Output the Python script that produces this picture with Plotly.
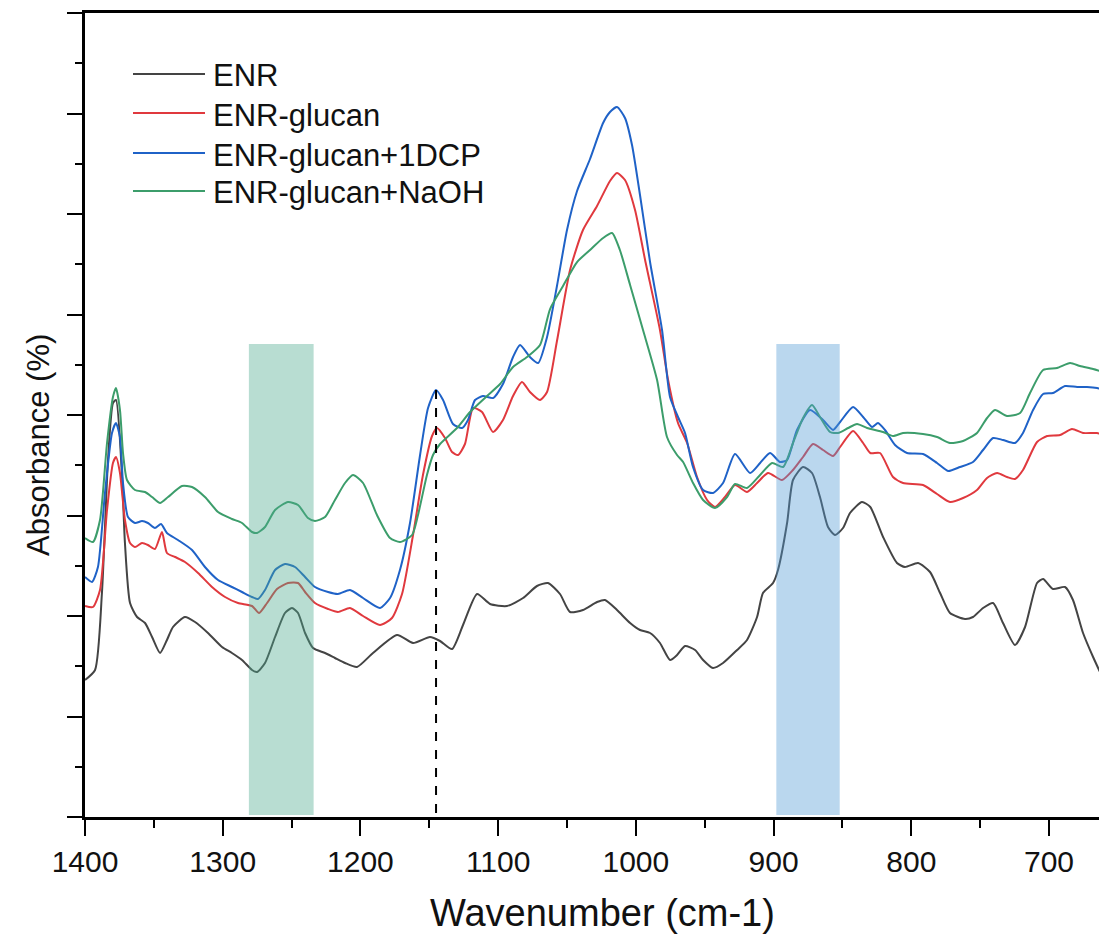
import plotly.graph_objects as go

# ---------------- data (wavenumber cm-1, absorbance arbitrary units) ----------------
enr_wn = [1400, 1392.7, 1387.7, 1383.3, 1379.7, 1377.5, 1373.1, 1371.0, 1367.3, 1362.2, 1356.4, 1351.3,
          1345.5, 1340.5, 1336.1, 1327.4, 1320.1, 1310.7, 1300.5, 1293.3, 1286.0, 1278.7, 1275.1, 1269.3,
          1262.0, 1254.8, 1249.7, 1245.3, 1240.2, 1234.4, 1225.7, 1218.5, 1211.2, 1202.5, 1190.9, 1173.4,
          1161.8, 1149.5, 1142.2, 1133.5, 1125.5, 1115.3, 1105.9, 1093.6, 1081.9, 1071.8, 1063.8, 1055.1,
          1047.8, 1038.4, 1028.2, 1022.4, 1013.7, 1004.2, 997.0, 989.7, 982.5, 975.2, 970.1, 964.3, 957.0,
          951.2, 944.0, 936.7, 926.5, 919.3, 912.0, 907.7, 900.4, 896.8, 890.2, 885.9, 878.6, 872.1, 866.3,
          860.5, 855.4, 849.6, 844.5, 835.8, 829.8, 820.5, 810.4, 804.6, 795.1, 786.4, 779.1, 771.9, 761.0,
          755.2, 747.9, 740.6, 733.4, 724.7, 717.4, 708.7, 704.3, 697.1, 688.4, 682.6, 675.3, 668.0, 657.9]
enr_ab = [1.37, 1.47, 2.24, 3.57, 4.14, 4.17, 3.40, 2.74, 2.14, 2.00, 1.94, 1.80,
          1.64, 1.77, 1.90, 2.00, 1.95, 1.84, 1.70, 1.64, 1.57, 1.47, 1.45, 1.54,
          1.80, 2.04, 2.09, 2.04, 1.84, 1.69, 1.64, 1.59, 1.54, 1.50, 1.64, 1.82,
          1.74, 1.80, 1.76, 1.68, 1.92, 2.23, 2.13, 2.11, 2.19, 2.31, 2.34, 2.23,
          2.05, 2.07, 2.15, 2.17, 2.07, 1.94, 1.87, 1.84, 1.74, 1.57, 1.62, 1.71, 1.67,
          1.57, 1.49, 1.54, 1.67, 1.77, 2.00, 2.24, 2.34, 2.47, 2.94, 3.37, 3.50, 3.44, 3.20,
          2.90, 2.82, 2.89, 3.04, 3.15, 3.10, 2.80, 2.54, 2.50, 2.54, 2.45, 2.24, 2.04, 1.98,
          2.00, 2.09, 2.14, 1.94, 1.72, 1.90, 2.34, 2.38, 2.28, 2.30, 2.17, 1.84, 1.60, 1.30]

glucan_wn = [1400, 1394.2, 1389.1, 1384.0, 1379.7, 1377.5, 1374.6, 1371.0, 1367.3, 1363.7, 1358.6, 1354.3,
             1349.2, 1344.1, 1340.5, 1334.6, 1327.4, 1317.9, 1307.8, 1298.3, 1288.9, 1278.7, 1273.6, 1267.8,
             1260.6, 1252.6, 1245.3, 1240.2, 1233.0, 1223.5, 1216.3, 1207.6, 1198.1, 1185.8, 1177.1, 1169.8,
             1161.8, 1154.6, 1148.0, 1144.4, 1138.6, 1133.5, 1129.1, 1124.1, 1118.2, 1111.7, 1103.7, 1096.5,
             1089.2, 1082.7, 1076.9, 1069.6, 1064.5, 1057.3, 1047.8, 1038.4, 1028.2, 1018.8, 1013.7, 1007.9,
             1000.6, 993.3, 982.5, 976.6, 969.4, 962.8, 955.6, 948.3, 942.5, 935.3, 928.0, 919.3, 912.0, 904.0,
             893.9, 885.9, 878.6, 871.4, 864.1, 856.8, 851.7, 842.3, 835.0, 829.8, 822.7, 813.3, 806.0, 791.5,
             781.3, 771.9, 762.4, 752.3, 745.0, 737.7, 730.5, 724.7, 718.9, 708.7, 701.4, 692.0, 683.3, 675.3,
             665.1, 657.9]
glucan_ab = [2.11, 2.10, 2.27, 3.07, 3.54, 3.60, 3.44, 2.97, 2.74, 2.70, 2.74, 2.72,
             2.68, 2.85, 2.64, 2.60, 2.55, 2.44, 2.30, 2.20, 2.14, 2.11, 2.04, 2.14,
             2.28, 2.34, 2.34, 2.25, 2.14, 2.08, 2.05, 2.09, 2.01, 1.92, 1.99, 2.23,
             2.82, 3.42, 3.81, 3.89, 3.79, 3.65, 3.62, 3.73, 4.09, 4.05, 3.85, 3.97,
             4.21, 4.35, 4.25, 4.17, 4.25, 4.76, 5.47, 5.87, 6.11, 6.36, 6.44, 6.37,
             6.07, 5.57, 4.87, 4.37, 3.94, 3.74, 3.40, 3.17, 3.10, 3.20, 3.32, 3.25, 3.34, 3.44,
             3.37, 3.47, 3.60, 3.73, 3.67, 3.61, 3.70, 3.86, 3.74, 3.64, 3.64, 3.40, 3.34, 3.32,
             3.23, 3.15, 3.19, 3.27, 3.39, 3.44, 3.40, 3.38, 3.47, 3.75, 3.81, 3.82, 3.88, 3.84,
             3.84, 3.81]

dcp_wn = [1400, 1394.9, 1390.6, 1385.5, 1380.4, 1377.5, 1374.6, 1372.4, 1368.8, 1363.7, 1358.6, 1354.3,
          1349.2, 1344.8, 1340.5, 1332.5, 1322.3, 1312.9, 1303.4, 1293.3, 1286.0, 1278.7, 1274.4, 1269.3,
          1262.0, 1254.8, 1247.5, 1240.2, 1233.0, 1223.5, 1216.3, 1207.6, 1198.1, 1185.8, 1178.5, 1171.3,
          1164.0, 1156.7, 1150.9, 1145.1, 1140.0, 1132.8, 1126.2, 1121.9, 1116.8, 1111.0, 1103.7, 1096.5,
          1089.2, 1084.1, 1076.9, 1071.0, 1064.5, 1057.3, 1050.0, 1042.7, 1033.3, 1023.8, 1018.8, 1013.7,
          1007.9, 1002.8, 997.0, 989.7, 981.0, 975.2, 969.4, 964.3, 958.5, 951.2, 944.0, 936.7, 928.0,
          917.1, 909.8, 902.6, 895.3, 890.2, 883.0, 873.5, 864.1, 856.8, 851.7, 842.3, 835.0, 828.5, 824.2,
          819.1, 811.8, 803.1, 791.5, 781.3, 773.3, 764.6, 755.2, 747.9, 740.6, 733.4, 724.7, 718.9, 711.6,
          704.3, 697.1, 688.4, 679.6, 672.4, 665.1, 657.9]
dcp_ab = [2.40, 2.35, 2.50, 3.24, 3.84, 3.94, 3.80, 3.34, 3.00, 2.94, 2.96, 2.94,
          2.89, 2.93, 2.84, 2.77, 2.67, 2.50, 2.37, 2.30, 2.25, 2.20, 2.18, 2.27,
          2.47, 2.53, 2.50, 2.40, 2.30, 2.25, 2.23, 2.27, 2.19, 2.09, 2.19, 2.47,
          2.94, 3.62, 4.09, 4.27, 4.17, 3.93, 3.89, 3.97, 4.17, 4.21, 4.19, 4.33,
          4.60, 4.72, 4.60, 4.54, 4.80, 5.31, 5.87, 6.26, 6.58, 6.94, 7.05, 7.10,
          6.99, 6.72, 6.22, 5.55, 4.87, 4.20, 4.00, 3.84, 3.50, 3.27, 3.24, 3.34, 3.63,
          3.44, 3.54, 3.64, 3.55, 3.57, 3.87, 4.07, 3.97, 3.87, 3.95, 4.10, 4.00, 3.90, 3.94,
          3.87, 3.72, 3.64, 3.63, 3.54, 3.46, 3.50, 3.55, 3.67, 3.79, 3.77, 3.74, 3.84, 4.07,
          4.23, 4.24, 4.31, 4.30, 4.30, 4.29, 4.26]

naoh_wn = [1400, 1394.2, 1389.1, 1384.0, 1379.7, 1377.5, 1374.6, 1372.4, 1369.5, 1363.7, 1356.4, 1351.3,
           1345.5, 1339.7, 1329.6, 1322.3, 1312.9, 1303.4, 1293.3, 1286.0, 1278.7, 1275.1, 1269.3, 1262.0,
           1252.6, 1245.3, 1238.1, 1233.0, 1225.7, 1218.5, 1211.2, 1205.4, 1198.1, 1188.0, 1178.5, 1171.3,
           1162.5, 1158.2, 1151.7, 1147.3, 1142.2, 1129.9, 1120.4, 1108.1, 1098.6, 1089.2, 1079.0, 1069.6,
           1062.3, 1052.9, 1042.7, 1033.3, 1023.8, 1017.3, 1011.6, 1004.2, 994.8, 984.6, 977.4, 970.1,
           965.7, 958.5, 951.2, 942.5, 933.8, 928.0, 919.3, 909.8, 901.1, 893.1, 885.9, 878.6, 872.1,
           866.3, 859.0, 853.2, 845.9, 839.4, 832.1, 820.5, 813.3, 806.0, 791.5, 781.3, 771.9, 762.4,
           752.3, 745.0, 739.2, 730.5, 721.0, 713.8, 704.3, 694.2, 684.7, 677.5, 668.0, 657.9]
naoh_ab = [2.79, 2.75, 2.97, 3.74, 4.20, 4.29, 4.07, 3.64, 3.37, 3.27, 3.25, 3.20,
           3.14, 3.20, 3.31, 3.30, 3.20, 3.05, 2.98, 2.94, 2.85, 2.84, 2.90, 3.07,
           3.15, 3.12, 2.99, 2.96, 3.00, 3.17, 3.34, 3.42, 3.34, 3.02, 2.79, 2.75,
           2.82, 3.02, 3.42, 3.62, 3.73, 3.89, 4.05, 4.21, 4.33, 4.50, 4.60, 4.72,
           5.08, 5.31, 5.55, 5.67, 5.79, 5.84, 5.67, 5.32, 4.87, 4.37, 3.80, 3.62,
           3.55, 3.34, 3.17, 3.09, 3.20, 3.33, 3.29, 3.42, 3.54, 3.50, 3.74, 3.99, 4.12,
           4.00, 3.85, 3.84, 3.89, 3.93, 3.89, 3.85, 3.81, 3.84, 3.83, 3.80, 3.74, 3.76,
           3.84, 3.99, 4.07, 4.01, 4.04, 4.24, 4.47, 4.49, 4.54, 4.51, 4.48, 4.44]

series_names = ["ENR", "ENR-glucan", "ENR-glucan+1DCP", "ENR-glucan+NaOH"]
series_wn = [enr_wn, glucan_wn, dcp_wn, naoh_wn]
series_ab = [enr_ab, glucan_ab, dcp_ab, naoh_ab]
series_colors = ["#444444", "#e0393e", "#1f62c7", "#3c9d6b"]

x_ticks = [1400, 1300, 1200, 1100, 1000, 900, 800, 700]
highlight_bands = [(1281, 1234, "#4eaa8e"), (898, 852, "#529bd4")]
band_top = 4.73
marker_wn = 1145.1
marker_top = 4.27

# ---------------- figure ----------------
# The page body has an 8px margin; the figure is sized so the plot area lands
# at page pixels x 85..1107, y 13..817.
OFF = 8
W, H = 1107 - OFF, 935 - OFF
L, R, T = 85 - OFF, 0, 13 - OFF
B = H - (817 - OFF)
PW, PH = W - L - R, H - T - B


def px(xp):  # page pixel -> paper x
    return (xp - OFF - L) / PW


def py(yp):  # page pixel -> paper y
    return (H - B - (yp - OFF)) / PH


fig = go.Figure()
for name, wn, ab, col in zip(series_names, series_wn, series_ab, series_colors):
    fig.add_trace(go.Scatter(x=wn, y=ab, mode="lines", name=name,
                             line=dict(color=col, width=2, shape="spline", smoothing=0.6),
                             showlegend=False))

shapes = []
for x0, x1, col in highlight_bands:
    shapes.append(dict(type="rect", xref="x", yref="y", x0=x0, x1=x1, y0=0.02, y1=band_top,
                       fillcolor=col, opacity=0.4, line=dict(width=0), layer="above"))
shapes.append(dict(type="line", xref="x", yref="y", x0=marker_wn, x1=marker_wn, y0=0.04, y1=marker_top,
                   line=dict(color="black", width=2, dash="dash"), layer="above"))

# custom legend
annotations = []
leg_rows = [74, 113, 153, 191]
for name, col, yr in zip(series_names, series_colors, leg_rows):
    shapes.append(dict(type="line", xref="paper", yref="paper", x0=px(133), x1=px(205),
                       y0=py(yr), y1=py(yr), line=dict(color=col, width=2)))
    annotations.append(dict(xref="paper", yref="paper", x=px(211), y=py(yr + 2), text=name,
                            showarrow=False, xanchor="left", yanchor="middle",
                            font=dict(size=31, color="#111111")))

annotations.append(dict(xref="paper", yref="paper", x=px(38), y=py(445), text="Absorbance (%)",
                        textangle=-90, showarrow=False, xanchor="center", yanchor="middle",
                        font=dict(size=31, color="#111111")))
annotations.append(dict(xref="paper", yref="paper", x=px(602), y=py(913), text="Wavenumber (cm-1)",
                        showarrow=False, xanchor="center", yanchor="middle",
                        font=dict(size=38, color="#111111")))

ymax = 8.0401
major_y = [k * 1.005 for k in range(9)]
minor_y = [(k + 0.5) * 1.005 for k in range(8)]

fig.update_layout(
    width=W, height=H,
    margin=dict(l=L, r=R, t=T, b=B, autoexpand=False),
    plot_bgcolor="white", paper_bgcolor="white",
    font=dict(family="Liberation Sans, Arial, sans-serif", color="#111111"),
    shapes=shapes, annotations=annotations, showlegend=False,
    xaxis=dict(range=[1400, 657.9], tickvals=x_ticks, ticks="outside", ticklen=16, tickwidth=2,
               tickcolor="black", showline=True, linecolor="black", linewidth=2.5, mirror=True,
               showgrid=False, zeroline=False, tickfont=dict(size=30, color="#111111"),
               ticklabelstandoff=0,
               minor=dict(dtick=50, tick0=0, ticks="outside", ticklen=8, tickwidth=2, tickcolor="black",
                          showgrid=False)),
    yaxis=dict(range=[0, ymax], tickvals=major_y, ticks="outside", ticklen=15, tickwidth=2,
               tickcolor="black", showticklabels=False, showline=True, linecolor="black", linewidth=2.5,
               mirror=False, showgrid=False, zeroline=False,
               minor=dict(tickvals=minor_y, ticks="outside", ticklen=7, tickwidth=2, tickcolor="black",
                          showgrid=False)),
)

fig.write_html("out.html")
